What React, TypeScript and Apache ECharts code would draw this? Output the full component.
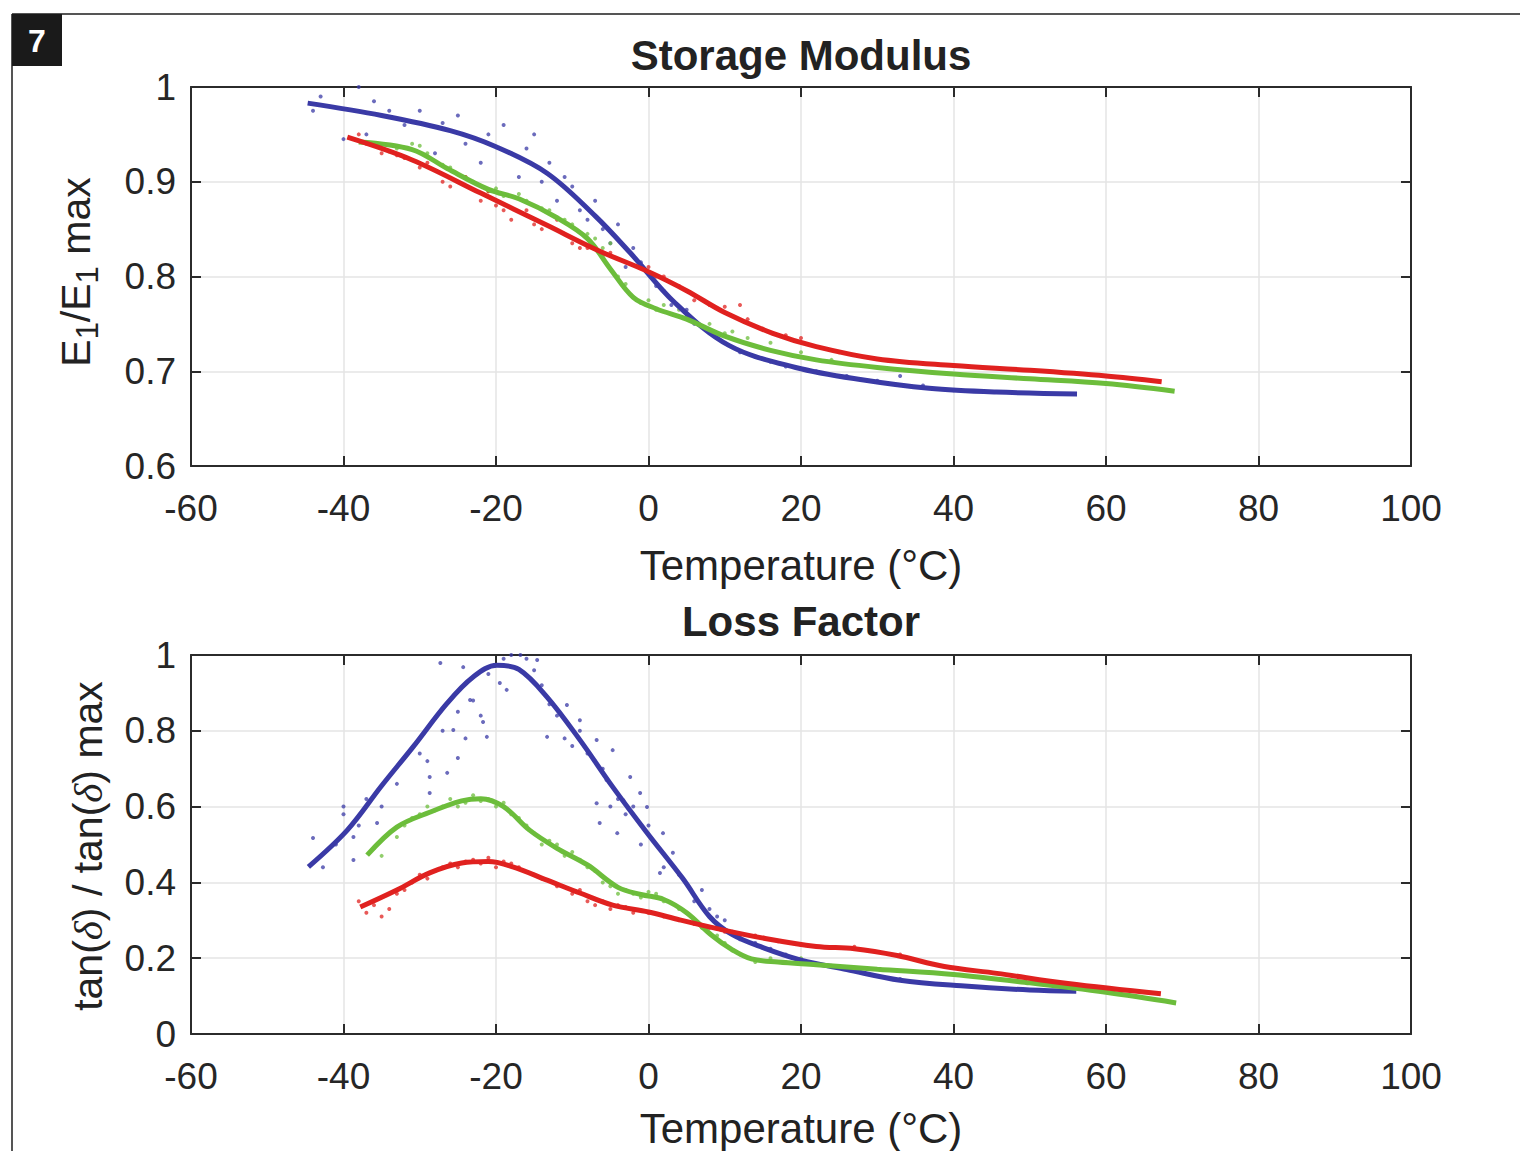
import React, { useEffect, useRef } from "react";
import * as echarts from "echarts";

// ---------- axis ticks ----------
const xTickValues = [-60, -40, -20, 0, 20, 40, 60, 80, 100];
const storageTickValues = [0.6, 0.7, 0.8, 0.9, 1];
const lossTickValues = [0, 0.2, 0.4, 0.6, 0.8, 1];

// ---------- Storage modulus: fitted lines [T, E1/E1max] ----------
const storageBlueLine = [
  [-44.7, 0.983], [-35, 0.97], [-26, 0.954], [-20, 0.937], [-13.3, 0.909], [-7, 0.864],
  [-2.4, 0.825], [3.5, 0.772], [10.6, 0.727], [19.3, 0.704], [28, 0.691], [36.8, 0.682],
  [45.6, 0.678], [56.2, 0.676],
];
const storageGreenLine = [
  [-38, 0.942], [-31, 0.934], [-26.4, 0.914], [-21, 0.892], [-17, 0.882], [-12, 0.862],
  [-8, 0.84], [-5, 0.808], [-2, 0.778], [1, 0.766], [5, 0.755], [10, 0.737], [16, 0.722],
  [22, 0.712], [30, 0.704], [40, 0.697], [50, 0.692], [60, 0.687], [69, 0.679],
];
const storageRedLine = [
  [-39.5, 0.947], [-31, 0.923], [-22, 0.888], [-13.3, 0.854], [-6.75, 0.828], [0, 0.805],
  [5, 0.785], [10, 0.762], [16.3, 0.74], [22, 0.726], [30, 0.713], [40, 0.706], [50, 0.701],
  [60, 0.695], [67.3, 0.689],
];

// ---------- Storage modulus: measured points ----------
const storageBluePts = [
  [-44, 0.975], [-43, 0.99], [-40, 0.945], [-38, 1.0], [-37, 0.95], [-36, 0.985], [-34, 0.975],
  [-32, 0.96], [-30, 0.975], [-28, 0.93], [-27, 0.962], [-25, 0.97], [-24, 0.94], [-22, 0.92],
  [-21, 0.95], [-19, 0.96], [-18, 0.93], [-17, 0.905], [-16, 0.935], [-15, 0.95], [-14, 0.9],
  [-13, 0.92], [-12, 0.88], [-11, 0.905], [-10, 0.895], [-9, 0.87], [-8, 0.86], [-7, 0.88],
  [-6, 0.85], [-5, 0.835], [-4, 0.855], [-3, 0.81], [-2, 0.83], [-1, 0.815], [1, 0.79],
  [2, 0.785], [3, 0.77], [5, 0.765], [6, 0.75], [8, 0.74], [9, 0.735], [10, 0.73], [12, 0.72],
  [14, 0.715], [16, 0.71], [18, 0.705], [22, 0.7], [26, 0.695], [30, 0.69], [33, 0.695],
  [36, 0.685], [40, 0.68], [46, 0.678],
];
const storageGreenPts = [
  [-36, 0.94], [-34, 0.932], [-33, 0.935], [-31, 0.94], [-30, 0.938], [-29, 0.93], [-27, 0.918],
  [-26, 0.915], [-24, 0.905], [-23, 0.9], [-21, 0.89], [-20, 0.893], [-19, 0.885], [-17, 0.887],
  [-16, 0.88], [-14, 0.872], [-13, 0.87], [-11, 0.86], [-10, 0.855], [-8, 0.845], [-7, 0.84],
  [-6, 0.83], [-5, 0.835], [-4, 0.8], [-3, 0.792], [-2, 0.778], [-1, 0.772], [0, 0.775],
  [1, 0.765], [2, 0.77], [4, 0.765], [5, 0.76], [6, 0.752], [8, 0.75], [10, 0.74], [11, 0.742],
  [13, 0.735], [16, 0.73], [20, 0.72], [24, 0.712],
];
const storageRedPts = [
  [-38, 0.95], [-37, 0.94], [-35, 0.93], [-33, 0.928], [-32, 0.925], [-30, 0.915], [-29, 0.92],
  [-27, 0.9], [-26, 0.895], [-24, 0.905], [-22, 0.88], [-21, 0.89], [-20, 0.875], [-19, 0.87],
  [-18, 0.86], [-16, 0.87], [-15, 0.855], [-14, 0.85], [-12, 0.86], [-11, 0.845], [-10, 0.835],
  [-9, 0.83], [-8, 0.83], [-6, 0.82], [-5, 0.825], [-3, 0.815], [-1, 0.81], [0, 0.81], [1, 0.8],
  [2, 0.8], [4, 0.79], [5, 0.785], [6, 0.775], [8, 0.77], [10, 0.768], [12, 0.77], [13, 0.755],
  [15, 0.745], [18, 0.738], [20, 0.735], [25, 0.72],
];

// ---------- Loss factor: fitted lines [T, tan(d)/tan(d)max] ----------
const lossBlueLine = [
  [-44.6, 0.441], [-39.5, 0.538], [-35, 0.655], [-30.9, 0.757], [-26.4, 0.873], [-23, 0.942],
  [-19.9, 0.973], [-17, 0.962], [-13.3, 0.889], [-9, 0.776], [-4.7, 0.652], [-0.2, 0.531],
  [4.5, 0.41], [8, 0.31], [11, 0.262], [15, 0.228], [20, 0.195], [26, 0.17], [33, 0.142],
  [41, 0.127], [50, 0.116], [56.1, 0.113],
];
const lossGreenLine = [
  [-36.9, 0.472], [-33, 0.546], [-28.7, 0.585], [-24.5, 0.615], [-22, 0.621], [-19, 0.6],
  [-15.6, 0.538], [-12, 0.49], [-8, 0.446], [-4, 0.387], [-1, 0.368], [2, 0.355], [5, 0.32],
  [8.2, 0.262], [11, 0.222], [13.5, 0.198], [17, 0.19], [22, 0.183], [30, 0.171], [40, 0.157],
  [50, 0.135], [60, 0.11], [69.2, 0.082],
];
const lossRedLine = [
  [-37.8, 0.335], [-33, 0.38], [-28.7, 0.425], [-24.5, 0.451], [-21, 0.455], [-17.8, 0.441],
  [-13.3, 0.406], [-9, 0.372], [-4.7, 0.34], [0, 0.322], [4.1, 0.301], [9, 0.278],
  [15.3, 0.252], [22, 0.231], [27, 0.225], [32.6, 0.207], [38.8, 0.178], [45.7, 0.16],
  [55, 0.133], [67.2, 0.106],
];

// ---------- Loss factor: measured points ----------
const lossBluePts = [
  [-44, 0.517], [-43, 0.47], [-42.7, 0.44], [-41, 0.5], [-40, 0.6], [-40, 0.58], [-38.7, 0.52],
  [-38.7, 0.459], [-38, 0.55], [-37, 0.62], [-35.6, 0.557], [-35, 0.6], [-33, 0.66], [-30, 0.74],
  [-29, 0.72], [-28.7, 0.678], [-28.7, 0.636], [-27.3, 0.979], [-27, 0.8], [-26.4, 0.689],
  [-25.6, 0.802], [-25, 0.728], [-25, 0.85], [-24.3, 0.968], [-24, 0.78], [-23.4, 0.881],
  [-23, 0.88], [-22, 0.84], [-21.7, 0.823], [-21.2, 0.784], [-21, 0.95], [-19.5, 0.926],
  [-19, 0.99], [-18.6, 0.908], [-18, 1.0], [-16.8, 1.0], [-16, 0.99], [-15, 0.96],
  [-14.6, 0.987], [-14, 0.92], [-13.3, 0.784], [-13, 0.87], [-12, 0.84], [-11, 0.78],
  [-10.7, 0.868], [-10, 0.76], [-9, 0.828], [-9, 0.8], [-8, 0.74], [-7, 0.72], [-6.8, 0.776],
  [-6.8, 0.609], [-6.4, 0.557], [-6, 0.7], [-5.5, 0.67], [-5, 0.6], [-4.7, 0.749], [-4.1, 0.53],
  [-4, 0.62], [-3.3, 0.617], [-3, 0.58], [-2.4, 0.678], [-2, 0.6], [-1.1, 0.636], [-1, 0.5],
  [-0.2, 0.599], [0, 0.55], [1.5, 0.425], [1.9, 0.53], [2, 0.44], [3.2, 0.478], [4, 0.42],
  [6, 0.35], [7, 0.38], [8, 0.33], [9, 0.31], [10, 0.3], [11, 0.27], [12, 0.25], [14, 0.24],
  [16, 0.225], [18, 0.21], [24, 0.18], [33, 0.145],
];
const lossGreenPts = [
  [-36, 0.49], [-35, 0.47], [-34, 0.53], [-33, 0.52], [-32, 0.55], [-31, 0.57], [-30, 0.58],
  [-29, 0.6], [-28, 0.59], [-27, 0.6], [-26, 0.62], [-25, 0.6], [-24, 0.61], [-23, 0.63],
  [-22, 0.615], [-21, 0.62], [-20, 0.6], [-19, 0.61], [-18, 0.58], [-17, 0.57], [-16, 0.55],
  [-15, 0.53], [-14, 0.5], [-13, 0.51], [-12, 0.5], [-11, 0.47], [-10, 0.48], [-9, 0.46],
  [-8, 0.44], [-7, 0.43], [-6, 0.4], [-5, 0.39], [-4, 0.37], [-3, 0.38], [-2, 0.37],
  [-1, 0.36], [0, 0.375], [1, 0.37], [2, 0.35], [4, 0.33], [5, 0.32], [7, 0.28], [9, 0.26],
  [10, 0.24], [11, 0.22], [12, 0.21], [14, 0.19], [16, 0.2], [18, 0.19], [20, 0.2], [22, 0.185],
];
const lossRedPts = [
  [-38, 0.35], [-37, 0.32], [-36, 0.34], [-35, 0.31], [-34, 0.33], [-33, 0.37], [-32, 0.38],
  [-31, 0.4], [-30, 0.42], [-29, 0.41], [-28, 0.43], [-27, 0.44], [-26, 0.45], [-25, 0.44],
  [-24, 0.455], [-23, 0.46], [-22, 0.45], [-21, 0.465], [-20, 0.44], [-19, 0.455], [-18, 0.45],
  [-17, 0.44], [-15, 0.42], [-14, 0.41], [-12, 0.39], [-10, 0.37], [-9, 0.38], [-8, 0.35],
  [-7, 0.34], [-6, 0.35], [-5, 0.33], [-4, 0.34], [-3, 0.335], [-2, 0.32], [0, 0.32], [2, 0.31],
  [4, 0.3], [6, 0.29], [8, 0.28], [10, 0.27], [12, 0.26], [14, 0.26], [17, 0.245], [20, 0.235],
  [27, 0.23], [33, 0.21], [40, 0.175],
];

const BLUE = "#3a3aa6";
const GREEN = "#6cbd3b";
const RED = "#e0211f";
const AXIS = "#2b2b2b";
const GRIDC = "#e4e4e4";
const FONT = "Liberation Sans, Arial, sans-serif";

export default function App() {
  const ref = useRef<HTMLDivElement>(null);

  useEffect(() => {
    document.body.style.margin = "0";
    const chart = echarts.init(ref.current!, null, { renderer: "svg" });

    const gridDefs = [
      { left: 191, top: 87, width: 1220, height: 379 },
      { left: 191, top: 655, width: 1220, height: 379 },
    ];

    const xMin = xTickValues[0];
    const xMax = xTickValues[xTickValues.length - 1];
    const xStep = xTickValues[1] - xTickValues[0];

    const axisLine = { show: true, onZero: false, lineStyle: { color: AXIS, width: 2 } };
    const axisTick = { show: true, inside: true, length: 10, lineStyle: { color: AXIS, width: 2 } };
    const splitLine = { show: true, lineStyle: { color: GRIDC, width: 1.5 } };
    const tickLabel = { fontSize: 37, fontFamily: FONT, color: "#262626" };

    const xAxes: any[] = [];
    const yAxes: any[] = [];
    const yRanges = [storageTickValues, lossTickValues];
    [0, 1].forEach((g) => {
      xAxes.push({
        type: "value", gridIndex: g, position: "bottom", min: xMin, max: xMax, interval: xStep,
        axisLine, axisTick, splitLine,
        axisLabel: { ...tickLabel, margin: 24, showMinLabel: true, showMaxLabel: true },
      });
      xAxes.push({
        type: "value", gridIndex: g, position: "top", min: xMin, max: xMax, interval: xStep,
        axisLine, axisTick, splitLine: { show: false }, axisLabel: { show: false },
      });
      const yt = yRanges[g];
      const yMin = yt[0];
      const yMax = yt[yt.length - 1];
      const yStep = +(yt[1] - yt[0]).toFixed(3);
      yAxes.push({
        type: "value", gridIndex: g, position: "left", min: yMin, max: yMax, interval: yStep,
        axisLine, axisTick, splitLine,
        axisLabel: {
          ...tickLabel, margin: 15, showMinLabel: true, showMaxLabel: true,
          formatter: (v: number) => String(+v.toFixed(2)),
        },
      });
      yAxes.push({
        type: "value", gridIndex: g, position: "right", min: yMin, max: yMax, interval: yStep,
        axisLine, axisTick, splitLine: { show: false }, axisLabel: { show: false },
      });
    });

    const scatter = (data: number[][], color: string, g: number) => ({
      type: "scatter", data, xAxisIndex: g * 2, yAxisIndex: g * 2, symbolSize: 4,
      itemStyle: { color, opacity: 0.75 }, silent: true, z: 2,
    });
    const line = (data: number[][], color: string, g: number) => ({
      type: "line", data, xAxisIndex: g * 2, yAxisIndex: g * 2, showSymbol: false,
      smooth: 0.35, lineStyle: { color, width: 5 }, silent: true, z: 3,
    });

    const series = [
      scatter(storageBluePts, BLUE, 0),
      scatter(storageGreenPts, GREEN, 0),
      scatter(storageRedPts, RED, 0),
      line(storageBlueLine, BLUE, 0),
      line(storageGreenLine, GREEN, 0),
      line(storageRedLine, RED, 0),
      scatter(lossBluePts, BLUE, 1),
      scatter(lossGreenPts, GREEN, 1),
      scatter(lossRedPts, RED, 1),
      line(lossBlueLine, BLUE, 1),
      line(lossGreenLine, GREEN, 1),
      line(lossRedLine, RED, 1),
    ];

    const txt = (text: string, x: number, y: number, size: number, bold = false) => ({
      type: "text", x, y, silent: true,
      style: {
        text, fill: "#222", fontSize: size, fontFamily: FONT,
        fontWeight: bold ? "bold" : "normal", textAlign: "center", textVerticalAlign: "middle",
      },
    });

    const graphic: any[] = [
      { type: "line", shape: { x1: 12, y1: 14, x2: 1520, y2: 14 }, style: { stroke: "#555", lineWidth: 2 } },
      { type: "line", shape: { x1: 12, y1: 14, x2: 12, y2: 1151 }, style: { stroke: "#555", lineWidth: 2 } },
      { type: "rect", shape: { x: 12, y: 14, width: 50, height: 52 }, style: { fill: "#1a1a1a" } },
      {
        type: "text", x: 37, y: 41,
        style: { text: "7", fill: "#fff", fontSize: 32, fontWeight: "bold", fontFamily: FONT, textAlign: "center", textVerticalAlign: "middle" },
      },
      txt("Storage Modulus", 801, 55, 42, true),
      txt("Loss Factor", 801, 621, 42, true),
      txt("Temperature (°C)", 801, 565, 42),
      txt("Temperature (°C)", 801, 1128, 42),
      {
        type: "text", x: 76, y: 272, rotation: Math.PI / 2, silent: true,
        style: {
          text: "{n|E}{s|1}{n|/E}{s|1}{n| max}",
          textAlign: "center", textVerticalAlign: "middle",
          rich: {
            n: { fontSize: 41, fontFamily: FONT, fill: "#222" },
            s: { fontSize: 31, fontFamily: FONT, fill: "#222", padding: [22, 0, 0, 0] },
          },
        },
      },
      {
        type: "text", x: 88, y: 846, rotation: Math.PI / 2, silent: true,
        style: {
          text: "{n|tan(}{d|δ}{n|) / tan(}{d|δ}{n|) max}",
          textAlign: "center", textVerticalAlign: "middle",
          rich: {
            n: { fontSize: 41, fontFamily: FONT, fill: "#222" },
            d: { fontSize: 41, fontFamily: "Liberation Serif, serif", fontStyle: "italic", fill: "#222" },
          },
        },
      },
    ];

    chart.setOption({
      animation: false,
      backgroundColor: "#ffffff",
      grid: gridDefs,
      xAxis: xAxes,
      yAxis: yAxes,
      series,
      graphic,
    });

    return () => chart.dispose();
  }, []);

  return <div ref={ref} style={{ width: 1520, height: 1151 }} />;
}
